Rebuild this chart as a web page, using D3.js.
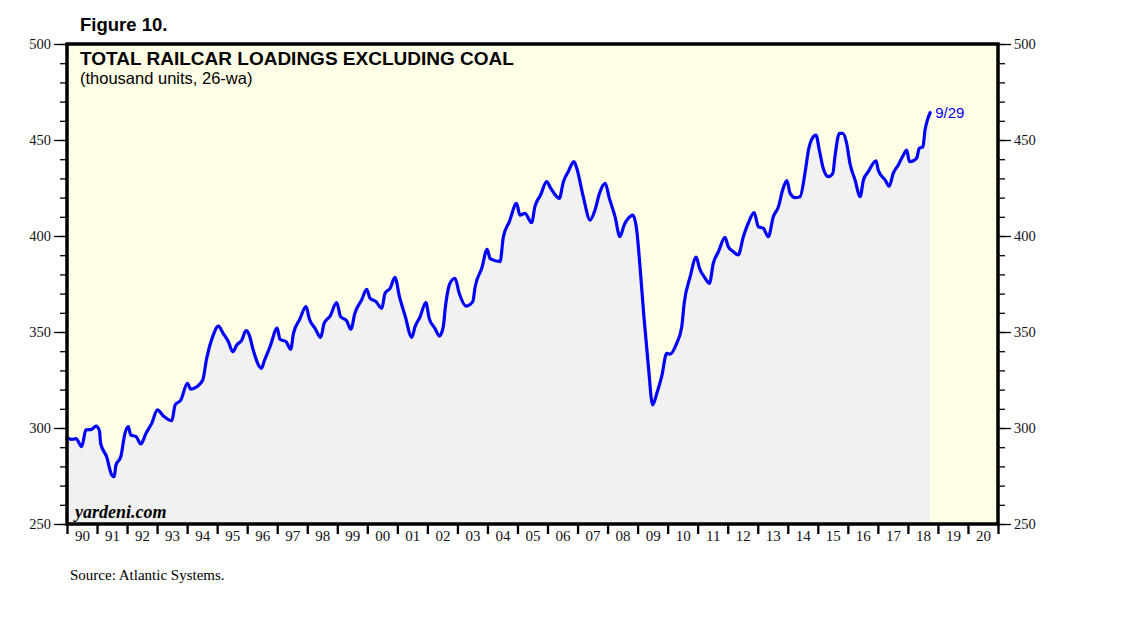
<!DOCTYPE html>
<html>
<head>
<meta charset="utf-8">
<script src="https://cdn.jsdelivr.net/npm/d3@7"></script>
<style>
  html, body { margin: 0; padding: 0; background: #ffffff; }
  svg { display: block; }
</style>
</head>
<body>
<svg id="chart" width="1138" height="621"></svg>
<script>
// ---- Data (decimal year, thousand units, 26-week average) ----
const dates = [
  1990.00, 1990.16, 1990.30, 1990.49, 1990.63, 1990.82, 1990.97, 1991.08, 1991.12, 1991.32,
  1991.49, 1991.57, 1991.63, 1991.79, 1991.93, 1992.04, 1992.12, 1992.30, 1992.46, 1992.63,
  1992.82, 1993.01, 1993.21, 1993.49, 1993.60, 1993.79, 1994.01, 1994.12, 1994.32, 1994.52,
  1994.65, 1994.85, 1995.04, 1995.20, 1995.37, 1995.52, 1995.65, 1995.82, 1995.96, 1996.07,
  1996.20, 1996.48, 1996.56, 1996.76, 1997.00, 1997.09, 1997.29, 1997.45, 1997.54, 1997.74,
  1997.96, 1998.07, 1998.26, 1998.45, 1998.56, 1998.76, 1998.98, 1999.11, 1999.31, 1999.45,
  1999.59, 1999.81, 1999.98, 2000.09, 2000.29, 2000.48, 2000.59, 2000.76, 2000.92, 2001.07,
  2001.26, 2001.48, 2001.59, 2001.75, 2001.95, 2002.06, 2002.25, 2002.40, 2002.53, 2002.59,
  2002.75, 2002.92, 2003.06, 2003.29, 2003.51, 2003.59, 2003.81, 2003.99, 2004.09, 2004.42,
  2004.53, 2004.73, 2004.97, 2005.08, 2005.25, 2005.47, 2005.58, 2005.77, 2005.97, 2006.11,
  2006.39, 2006.53, 2006.69, 2006.88, 2006.99, 2007.19, 2007.42, 2007.58, 2007.73, 2007.92,
  2008.06, 2008.25, 2008.41, 2008.55, 2008.69, 2008.84, 2008.97, 2009.08, 2009.21, 2009.36,
  2009.50, 2009.64, 2009.80, 2009.97, 2010.08, 2010.30, 2010.47, 2010.55, 2010.75, 2010.95,
  2011.06, 2011.25, 2011.39, 2011.52, 2011.69, 2011.91, 2012.02, 2012.19, 2012.35, 2012.52,
  2012.69, 2012.88, 2013.02, 2013.19, 2013.35, 2013.52, 2013.69, 2013.83, 2013.97, 2014.08,
  2014.24, 2014.41, 2014.58, 2014.69, 2014.85, 2014.94, 2015.05, 2015.18, 2015.35, 2015.50,
  2015.57, 2015.72, 2015.83, 2015.96, 2016.07, 2016.24, 2016.41, 2016.52, 2016.68, 2016.94,
  2017.01, 2017.24, 2017.38, 2017.51, 2017.68, 2017.85, 2017.96, 2018.05, 2018.18, 2018.29,
  2018.38, 2018.50, 2018.57, 2018.65, 2018.74
];
const loadings = [
  295.0, 294.1, 294.5, 290.3, 299.0, 299.3, 301.0, 298.6, 292.0, 285.0,
  275.5, 274.6, 280.7, 285.0, 297.2, 300.7, 296.4, 295.5, 291.7, 297.2,
  302.4, 309.4, 306.3, 303.8, 312.0, 314.6, 323.3, 320.2, 321.5, 325.0,
  336.3, 347.6, 353.1, 349.3, 345.0, 339.7, 343.2, 345.8, 350.7, 348.4,
  340.6, 331.1, 334.6, 342.3, 352.0, 346.2, 345.0, 341.0, 349.3, 356.3,
  363.2, 356.8, 351.9, 347.2, 354.5, 358.3, 365.3, 358.0, 355.9, 351.4,
  360.0, 366.7, 372.2, 367.6, 365.8, 362.3, 370.2, 372.8, 378.5, 368.4,
  358.3, 347.2, 352.8, 357.7, 365.3, 357.1, 351.9, 347.9, 352.8, 361.8,
  375.3, 378.0, 370.2, 363.5, 365.8, 373.6, 383.2, 393.1, 388.2, 386.7,
  399.6, 407.5, 417.0, 410.9, 411.8, 406.9, 415.3, 421.4, 428.3, 424.8,
  419.6, 428.3, 433.5, 438.7, 434.4, 420.5, 408.3, 413.5, 422.2, 427.4,
  419.6, 410.0, 399.6, 405.7, 409.2, 410.9, 403.1, 384.0, 358.0, 331.9,
  312.0, 318.1, 326.7, 338.9, 338.5, 344.1, 352.8, 364.9, 378.8, 389.0,
  383.2, 378.0, 375.3, 385.8, 391.8, 399.3, 394.4, 391.8, 390.1, 399.6,
  406.9, 412.2, 404.9, 404.0, 399.6, 410.1, 415.3, 424.0, 428.8, 422.2,
  420.0, 420.5, 433.5, 444.8, 451.7, 452.6, 444.8, 435.3, 430.9, 432.6,
  441.3, 453.5, 453.5, 448.3, 437.8, 429.2, 420.5, 429.2, 433.5, 439.2,
  434.4, 429.2, 426.0, 432.6, 437.0, 442.2, 444.8, 438.7, 439.2, 440.5,
  445.7, 446.5, 455.2, 460.4, 464.2
];
const yearLabels = ["90","91","92","93","94","95","96","97","98","99","00","01","02","03","04",
  "05","06","07","08","09","10","11","12","13","14","15","16","17","18","19","20"];
const firstYear = 1990;
const yMajorTicks = [250, 300, 350, 400, 450, 500];
const yMinorTicks = d3.range(250, 501, 10);
const lastLabel = "9/29";

// ---- Layout ----
const svg = d3.select("#chart");
const L = 67, R = 998, T = 44, B = 524;
const sans = "Liberation Sans, Arial, sans-serif";
const serif = "Liberation Serif, Times New Roman, serif";

const x = d3.scaleLinear().domain([firstYear, firstYear + yearLabels.length]).range([L, R]);
const y = d3.scaleLinear().domain([250, 500]).range([B, T]);

const data = dates.map((d, i) => ({ d, v: loadings[i] }));

// Figure label
svg.append("text").attr("x", 80).attr("y", 31)
  .attr("font-family", sans).attr("font-weight", "bold")
  .attr("font-size", 18.5).attr("fill", "#000").text("Figure 10.");

// Plot background
svg.append("rect").attr("x", L).attr("y", T).attr("width", R - L).attr("height", B - T)
  .attr("fill", "#fffee6");

// Area
const area = d3.area().x(d => x(d.d)).y0(y(250)).y1(d => y(d.v));
svg.append("path").datum(data).attr("d", area).attr("fill", "#f1f1f1");

// Line
const line = d3.line().x(d => x(d.d)).y(d => y(d.v)).curve(d3.curveMonotoneX);
svg.append("path").datum(data).attr("d", line)
  .attr("fill", "none").attr("stroke", "#0000ff").attr("stroke-width", 3.2)
  .attr("stroke-linejoin", "round").attr("stroke-linecap", "round");

// Last value label
const last = data[data.length - 1];
svg.append("text").attr("x", x(last.d) + 5).attr("y", y(last.v) + 5)
  .attr("font-family", sans).attr("font-size", 15)
  .attr("fill", "#0000ff").text(lastLabel);

// Chart title inside plot
svg.append("text").attr("x", 80).attr("y", 65)
  .attr("font-family", sans).attr("font-weight", "bold")
  .attr("font-size", 19).attr("fill", "#000").text("TOTAL RAILCAR LOADINGS EXCLUDING COAL");
svg.append("text").attr("x", 80).attr("y", 84)
  .attr("font-family", sans)
  .attr("font-size", 16.5).attr("fill", "#000").text("(thousand units, 26-wa)");

// yardeni.com
svg.append("text").attr("x", 75).attr("y", 518)
  .attr("font-family", serif).attr("font-weight", "bold")
  .attr("font-style", "italic").attr("font-size", 18).attr("fill", "#000").text("yardeni.com");

// Y axes
function styleAxis(g) {
  g.select(".domain").remove();
  g.selectAll("line").attr("stroke", "#000").attr("stroke-width", 1.3);
  g.selectAll("text").attr("font-family", serif).attr("font-size", 14.5).attr("fill", "#111");
}
svg.append("g").attr("transform", `translate(${L},0)`)
  .call(d3.axisLeft(y).tickValues(yMinorTicks).tickSize(7).tickFormat(""))
  .call(styleAxis);
svg.append("g").attr("transform", `translate(${L},0)`)
  .call(d3.axisLeft(y).tickValues(yMajorTicks).tickSize(13).tickPadding(3).tickFormat(d3.format("d")))
  .call(styleAxis);
svg.append("g").attr("transform", `translate(${R},0)`)
  .call(d3.axisRight(y).tickValues(yMinorTicks).tickSize(7).tickFormat(""))
  .call(styleAxis);
svg.append("g").attr("transform", `translate(${R},0)`)
  .call(d3.axisRight(y).tickValues(yMajorTicks).tickSize(13).tickPadding(3).tickFormat(d3.format("d")))
  .call(styleAxis);

// X axis: year boundary ticks and centered labels
const yearTicks = d3.range(firstYear, firstYear + yearLabels.length + 1);
svg.append("g").attr("transform", `translate(0,${B})`)
  .call(d3.axisBottom(x).tickValues(yearTicks).tickSize(10).tickFormat(""))
  .call(g => { g.select(".domain").remove(); g.selectAll("line").attr("stroke", "#000").attr("stroke-width", 2.3); });
const mids = yearLabels.map((_, i) => firstYear + i + 0.5);
svg.append("g").attr("transform", `translate(0,${B})`)
  .call(d3.axisBottom(x).tickValues(mids).tickSize(0).tickPadding(6).tickFormat((d, i) => yearLabels[i]))
  .call(g => { g.select(".domain").remove();
    g.selectAll("text").attr("font-family", serif).attr("font-size", 15).attr("fill", "#111"); });

// Frame
svg.append("rect").attr("x", L).attr("y", T).attr("width", R - L).attr("height", B - T)
  .attr("fill", "none").attr("stroke", "#000").attr("stroke-width", 3.5);

// Source
svg.append("text").attr("x", 70).attr("y", 580)
  .attr("font-family", serif).attr("font-size", 15).attr("fill", "#000").text("Source: Atlantic Systems.");
</script>
</body>
</html>
